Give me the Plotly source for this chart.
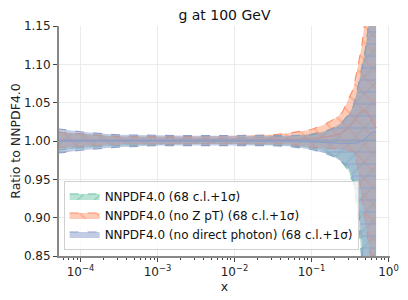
import plotly.graph_objects as go

x = [5e-5, 1e-4, 3e-4, 1e-3, 3e-3, 1e-2, 3e-2, 0.05, 0.1, 0.15, 0.2, 0.25,
     0.3, 0.35, 0.4, 0.45, 0.5, 0.55, 0.6, 0.65, 0.69]

# NNPDF4.0 (reference)
g_cen = [1.0] * 21
g_up = [1.012, 1.009, 1.006, 1.005, 1.004, 1.004, 1.005, 1.006, 1.009, 1.013, 1.018,
        1.025, 1.034, 1.046, 1.070, 1.095, 1.120, 1.150, 1.200, 1.300, 1.400]
g_lo = [0.988, 0.991, 0.994, 0.995, 0.996, 0.996, 0.995, 0.994, 0.991, 0.987, 0.980,
        0.972, 0.962, 0.945, 0.905, 0.855, 0.800, 0.750, 0.700, 0.600, 0.500]

# NNPDF4.0 (no Z pT)
o_cen = [1.0015, 1.001, 1.001, 1.001, 1.001, 1.001, 1.002, 1.002, 1.003, 1.005, 1.007,
         1.011, 1.017, 1.025, 1.034, 1.040, 1.040, 1.035, 1.028, 1.021, 1.017]
o_up = [1.0115, 1.009, 1.006, 1.006, 1.006, 1.007, 1.008, 1.010, 1.015, 1.022, 1.029,
        1.037, 1.053, 1.068, 1.097, 1.124, 1.160, 1.220, 1.300, 1.400, 1.500]
o_lo = [0.991, 0.993, 0.996, 0.996, 0.996, 0.996, 0.996, 0.996, 0.992, 0.991, 0.990,
        0.989, 0.988, 0.986, 0.966, 0.930, 0.900, 0.870, 0.840, 0.800, 0.770]

# NNPDF4.0 (no direct photon)
b_cen = [1.0, 1.0, 1.0, 1.0, 1.0, 1.0, 1.0, 1.0, 0.999, 0.998, 0.997,
         0.997, 0.997, 0.997, 0.998, 1.000, 1.003, 1.007, 1.010, 1.012, 1.012]
b_up = [1.016, 1.012, 1.008, 1.007, 1.007, 1.007, 1.007, 1.007, 1.008, 1.012, 1.017,
        1.024, 1.033, 1.045, 1.068, 1.092, 1.115, 1.150, 1.220, 1.350, 1.500]
b_lo = [0.984, 0.988, 0.992, 0.994, 0.994, 0.994, 0.994, 0.993, 0.989, 0.984, 0.979,
        0.973, 0.966, 0.950, 0.920, 0.870, 0.810, 0.750, 0.700, 0.600, 0.500]

x_tickvals = [1e-4, 1e-3, 1e-2, 1e-1, 1]
x_ticktext = ["10<sup>−4</sup>", "10<sup>−3</sup>", "10<sup>−2</sup>", "10<sup>−1</sup>", "10<sup>0</sup>"]

names = ["NNPDF4.0 (68 c.l.+1σ)",
         "NNPDF4.0 (no Z pT) (68 c.l.+1σ)",
         "NNPDF4.0 (no direct photon) (68 c.l.+1σ)"]
colors = ["#66c2a5", "#fc8d62", "#8da0cb"]
fills = ["rgba(102,194,165,0.45)", "rgba(252,141,98,0.45)", "rgba(141,160,203,0.55)"]
hatches = ["/", "\\", "-"]
series = [(g_cen, g_up, g_lo), (o_cen, o_up, o_lo), (b_cen, b_up, b_lo)]

fig = go.Figure()
for i, (cen, up, lo) in enumerate(series):
    c = colors[i]
    fig.add_trace(go.Scatter(x=x, y=lo, mode="lines", line=dict(color=c, width=1.1, dash="dash"),
                             showlegend=False, hoverinfo="skip"))
    fig.add_trace(go.Scatter(x=x, y=up, mode="lines", line=dict(color=c, width=1.1, dash="dash"),
                             fill="tonexty", fillcolor=fills[i],
                             fillpattern=dict(shape=hatches[i], fgcolor=c, size=12, solidity=0.14,
                                              fillmode="overlay"),
                             name=names[i], legendgroup=str(i)))
    fig.add_trace(go.Scatter(x=x, y=cen, mode="lines", line=dict(color=c, width=1.3),
                             showlegend=False, legendgroup=str(i), hoverinfo="skip"))

font = "DejaVu Sans"
fig.update_layout(
    width=408, height=300,
    margin=dict(l=51, r=26, t=18, b=52, autoexpand=False),
    paper_bgcolor="white", plot_bgcolor="white",
    font=dict(family=font, size=12, color="#222"),
    title=dict(text="g at 100 GeV", x=0.5, xref="paper", xanchor="center",
               y=0.976, yref="container", yanchor="middle", font=dict(size=14, color="#111")),
    showlegend=True,
    legend=dict(x=0.014, y=0.028, xanchor="left", yanchor="bottom",
                bgcolor="rgba(255,255,255,0.8)", bordercolor="#d0d0d0", borderwidth=1,
                font=dict(size=12, color="#111"), tracegroupgap=0, itemwidth=30),
)
fig.update_xaxes(type="log", range=[-4.28, 0.02], tickvals=x_tickvals, ticktext=x_ticktext,
                 automargin=False,
                 showgrid=True, gridcolor="#ebebeb", gridwidth=1,
                 showline=True, linecolor="#888", linewidth=2,
                 ticks="outside", ticklen=4, tickcolor="#444",
                 minor=dict(ticks="outside", ticklen=2, dtick="D1", tickcolor="#444", showgrid=False),
                 title=dict(text="x", standoff=3, font=dict(size=12.5)), zeroline=False)
fig.update_yaxes(range=[0.85, 1.15], dtick=0.05, tickformat=".2f",
                 automargin=False,
                 showgrid=True, gridcolor="#ebebeb", gridwidth=1,
                 showline=True, linecolor="#888", linewidth=2,
                 ticks="outside", ticklen=4, tickcolor="#444",
                 title=dict(text="Ratio to NNPDF4.0", standoff=5, font=dict(size=12.5)), zeroline=False)

fig.write_html("out.html")
